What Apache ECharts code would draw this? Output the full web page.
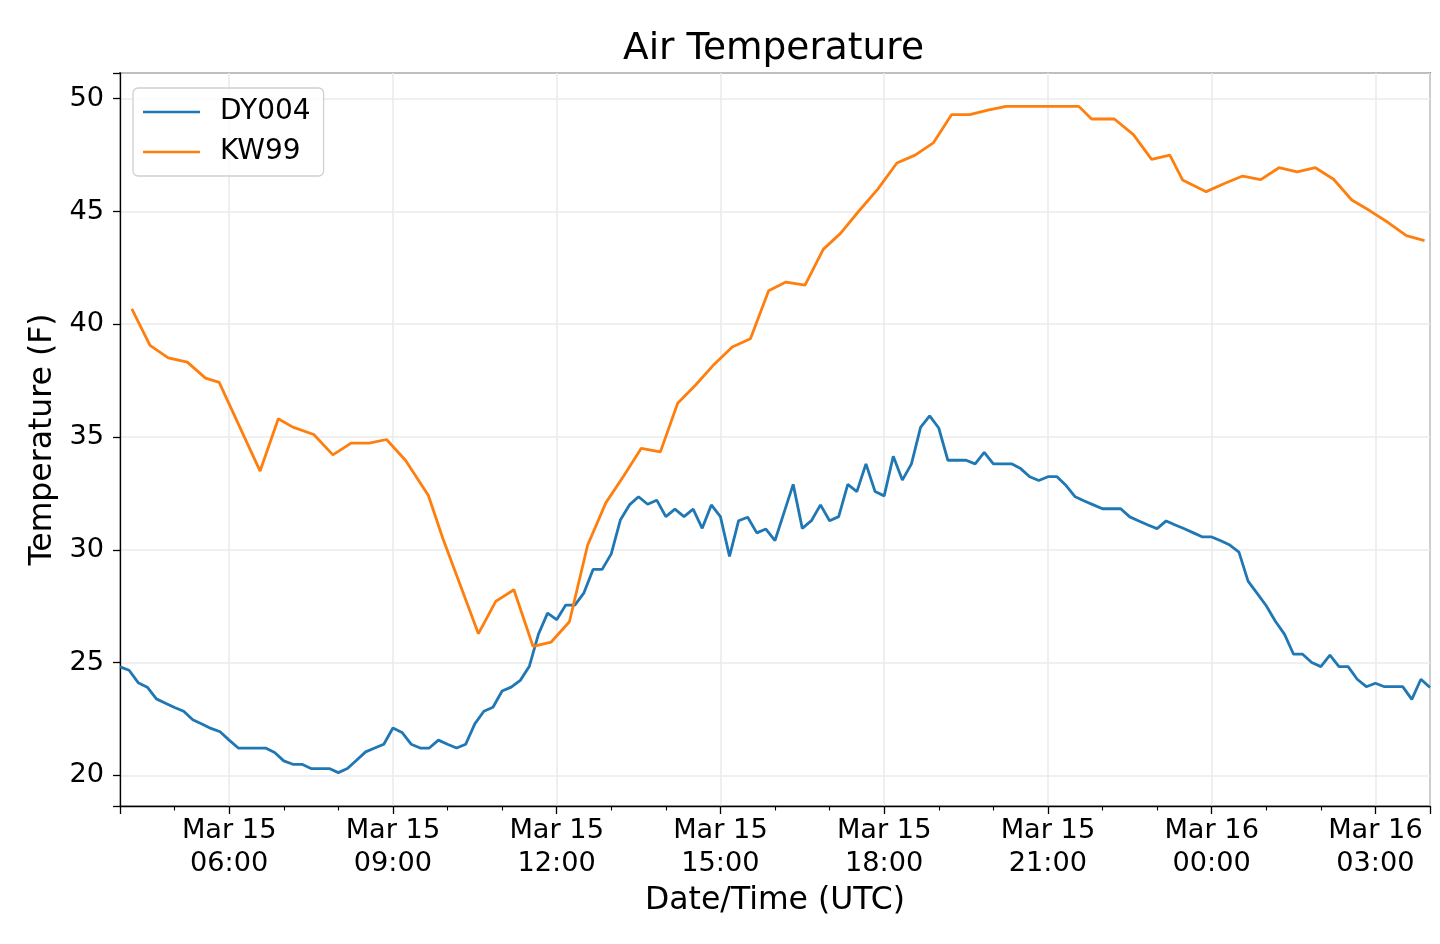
<!DOCTYPE html>
<html>
<head>
<meta charset="utf-8">
<script src="https://cdn.jsdelivr.net/npm/echarts@6/dist/echarts.min.js"></script>
<style>
html,body{margin:0;padding:0;background:#fff;}
#chart{width:1440px;height:944px;}
</style>
</head>
<body>
<div id="chart"></div>
<script>
// ---- data ----
const seriesNames = ['DY004', 'KW99'];
// DY004: 10-minute samples starting Mar 15 04:00 UTC
const dyStart = '04:00';
const dyStepMinutes = 10;
const dyValues = [
  24.81, 24.66, 24.11, 23.91, 23.39, 23.20, 23.01, 22.84, 22.46, 22.28,
  22.08, 21.93, 21.56, 21.21, 21.21, 21.21, 21.21, 21.01, 20.64, 20.49,
  20.49, 20.30, 20.30, 20.30, 20.12, 20.30, 20.67, 21.04, 21.21, 21.38,
  22.10, 21.90, 21.38, 21.21, 21.21, 21.56, 21.38, 21.21, 21.38, 22.28,
  22.84, 23.02, 23.74, 23.91, 24.21, 24.84, 26.26, 27.19, 26.90, 27.55,
  27.55, 28.09, 29.13, 29.13, 29.82, 31.32, 31.99, 32.35, 32.02, 32.20,
  31.47, 31.80, 31.47, 31.80, 30.95, 31.99, 31.47, 29.71, 31.29, 31.44,
  30.75, 30.92, 30.41, 31.66, 32.90, 30.95, 31.29, 31.99, 31.29, 31.47,
  32.90, 32.58, 33.81, 32.58, 32.39, 34.15, 33.09, 33.81, 35.43, 35.94,
  35.40, 33.97, 33.97, 33.97, 33.81, 34.32, 33.81, 33.81, 33.81, 33.60,
  33.24, 33.07, 33.24, 33.24, 32.85, 32.35, 32.16, 31.99, 31.82, 31.82,
  31.82, 31.46, 31.28, 31.10, 30.94, 31.28, 31.10, 30.93, 30.75, 30.57,
  30.57, 30.40, 30.21, 29.90, 28.61, 28.07, 27.52, 26.83, 26.26, 25.37,
  25.37, 25.00, 24.82, 25.33, 24.82, 24.82, 24.26, 23.93, 24.08, 23.93,
  23.93, 23.93, 23.37, 24.26, 23.89
];
// KW99: irregular report times (UTC, Mar 15 -> Mar 16)
const kwTimes = [
  '04:13','04:33','04:53','05:14','05:34','05:49','06:34','06:54','07:10','07:33',
  '07:54','08:14','08:34','08:53','09:14','09:39','09:55','10:34','10:53','11:13',
  '11:34','11:54','12:14','12:34','12:54','13:14','13:33','13:54','14:13','14:33',
  '14:53','15:13','15:33','15:53','16:12','16:33','16:53','17:12','17:32','17:53',
  '18:14','18:34','18:54','19:14','19:34','19:54','20:14','20:34','20:54','21:14',
  '21:34','21:48','22:13','22:34','22:54','23:14','23:28','23:54','00:14','00:34',
  '00:54','01:14','01:34','01:54','02:14','02:34','02:54','03:14','03:34','03:54'
];
const kwValues = [
  40.68, 39.06, 38.51, 38.32, 37.61, 37.42, 33.49, 35.81, 35.44, 35.11,
  34.21, 34.73, 34.73, 34.89, 33.96, 32.41, 30.49, 26.28, 27.71, 28.23,
  25.72, 25.91, 26.81, 30.20, 32.08, 33.29, 34.50, 34.34, 36.50, 37.32,
  38.22, 38.99, 39.36, 41.49, 41.87, 41.73, 43.32, 44.03, 45.01, 45.99,
  47.15, 47.50, 48.04, 49.29, 49.29, 49.49, 49.66, 49.66, 49.66, 49.66,
  49.66, 49.10, 49.10, 48.41, 47.31, 47.50, 46.40, 45.88, 46.24, 46.57,
  46.41, 46.94, 46.76, 46.94, 46.43, 45.51, 45.03, 44.51, 43.93, 43.71
];
const xRangeHours = [4, 28];          // hours since Mar 15 00:00 UTC
const yRange = [18.64, 51.14];
const dayLabels = ['Mar 15', 'Mar 16'];

// ---- helpers ----
function hm(s) { const p = s.split(':'); return (+p[0]) + (+p[1]) / 60; }
const dyData = dyValues.map((v, i) => [hm(dyStart) + i * dyStepMinutes / 60, v]);
let dayOffset = 0, prev = -1;
const kwData = kwTimes.map((t, i) => {
  let h = hm(t);
  if (h < prev) dayOffset += 24;
  prev = h;
  return [h + dayOffset, kwValues[i]];
});
function pad(n) { return (n < 10 ? '0' : '') + n; }

const FONT = 'DejaVu Sans';
const chart = echarts.init(document.getElementById('chart'), null, { renderer: 'canvas' });
chart.setOption({
  animation: false,
  backgroundColor: '#ffffff',
  textStyle: { fontFamily: FONT, color: '#000' },
  title: {
    text: 'Air Temperature',
    left: 623, top: 29,
    padding: 0,
    textStyle: { fontFamily: FONT, fontSize: 37.5, fontWeight: 'normal', color: '#000', lineHeight: 40 }
  },
  legend: {
    data: seriesNames,
    orient: 'vertical',
    left: 133, top: 88,
    padding: [9, 13, 9, 10],
    itemGap: 10,
    itemWidth: 57, itemHeight: 2.6,
    icon: 'rect',
    backgroundColor: 'rgba(255,255,255,0.8)',
    borderColor: '#d0d0d0', borderWidth: 1.3, borderRadius: 5,
    textStyle: { fontFamily: FONT, fontSize: 28, color: '#000', lineHeight: 30, padding: [0, 0, 0, 15] }
  },
  grid: {
    left: 120, right: 10, top: 73, bottom: 138,
    show: true, borderColor: '#000', borderWidth: 1.3, backgroundColor: 'transparent'
  },
  xAxis: {
    type: 'value',
    min: xRangeHours[0], max: xRangeHours[1],
    splitNumber: 8,
    name: 'Date/Time (UTC)',
    nameLocation: 'middle',
    nameGap: 72,
    nameTextStyle: { fontFamily: FONT, fontSize: 31.5, color: '#000', lineHeight: 32 },
    axisLine: { show: true, lineStyle: { color: '#000', width: 1.3 } },
    axisTick: { show: true, length: 8, lineStyle: { color: '#000', width: 1.3 } },
    minorTick: { show: true, splitNumber: 3, length: 4.5, lineStyle: { color: '#000', width: 1.1 } },
    axisLabel: {
      margin: 9,
      fontFamily: FONT, fontSize: 27.2, color: '#000', lineHeight: 32.5,
      formatter: function (h) {
        if (Math.abs(h % 3) > 1e-6 || h <= xRangeHours[0] || h >= xRangeHours[1]) return '';
        const day = h >= 24 ? dayLabels[1] : dayLabels[0];
        return day + '\n' + pad(Math.round(h % 24)) + ':00';
      }
    },
    splitLine: { show: true, lineStyle: { color: '#ebebeb', width: 1.6 } }
  },
  yAxis: {
    type: 'value',
    min: yRange[0], max: yRange[1],
    splitNumber: 5,
    name: 'Temperature (F)',
    nameLocation: 'middle',
    nameGap: 60,
    nameTextStyle: { fontFamily: FONT, fontSize: 31.5, color: '#000', lineHeight: 32 },
    axisLine: { show: true, lineStyle: { color: '#000', width: 1.3 } },
    axisTick: { show: true, length: 7, lineStyle: { color: '#000', width: 1.3 } },
    axisLabel: {
      margin: 16,
      fontFamily: FONT, fontSize: 27.2, color: '#000',
      formatter: function (v) {
        if (Math.abs(v % 5) > 1e-6) return '';
        return String(Math.round(v));
      }
    },
    splitLine: { show: true, lineStyle: { color: '#ebebeb', width: 1.6 } }
  },
  series: [
    {
      name: seriesNames[0], type: 'line', data: dyData,
      showSymbol: false, symbol: 'none', clip: true,
      color: '#1f77b4',
      lineStyle: { color: '#1f77b4', width: 2.8 }
    },
    {
      name: seriesNames[1], type: 'line', data: kwData,
      showSymbol: false, symbol: 'none', clip: true,
      color: '#ff7f0e',
      lineStyle: { color: '#ff7f0e', width: 2.8 }
    }
  ]
});
</script>
</body>
</html>
